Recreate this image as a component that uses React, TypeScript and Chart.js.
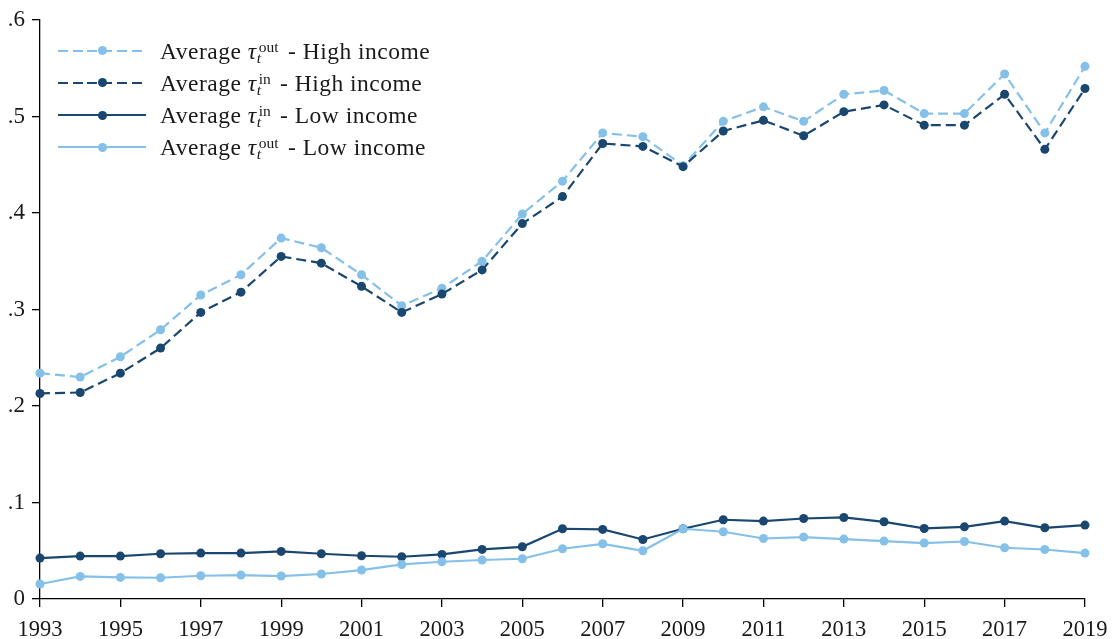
import React, { useEffect, useRef } from "react";
import { Chart, registerables } from "chart.js";

Chart.register(...registerables);

const years = [
  1993, 1994, 1995, 1996, 1997, 1998, 1999, 2000, 2001, 2002, 2003, 2004, 2005,
  2006, 2007, 2008, 2009, 2010, 2011, 2012, 2013, 2014, 2015, 2016, 2017, 2018, 2019,
];

const highOut = [
  0.234, 0.230, 0.251, 0.279, 0.315, 0.336, 0.374, 0.364, 0.336, 0.304, 0.322, 0.350, 0.399,
  0.433, 0.483, 0.479, 0.449, 0.495, 0.510, 0.495, 0.523, 0.527, 0.503, 0.503, 0.544, 0.483, 0.552,
];
const highIn = [
  0.213, 0.214, 0.234, 0.260, 0.297, 0.318, 0.355, 0.348, 0.324, 0.297, 0.316, 0.341, 0.389,
  0.417, 0.472, 0.469, 0.448, 0.485, 0.496, 0.480, 0.505, 0.512, 0.491, 0.491, 0.523, 0.466, 0.529,
];
const lowIn = [
  0.0424, 0.0445, 0.0445, 0.0469, 0.0476, 0.0476, 0.0493, 0.0469, 0.0448, 0.0438, 0.0462, 0.0514, 0.0541,
  0.0728, 0.0721, 0.0617, 0.0728, 0.0821, 0.0807, 0.0834, 0.0845, 0.0800, 0.0731, 0.0748, 0.0807, 0.0738, 0.0766,
];
const lowOut = [
  0.0155, 0.0234, 0.0224, 0.0220, 0.0241, 0.0248, 0.0238, 0.0259, 0.0300, 0.0358, 0.0386, 0.0404, 0.0417,
  0.0521, 0.0572, 0.0500, 0.0728, 0.0697, 0.0627, 0.0642, 0.0621, 0.0600, 0.0580, 0.0596, 0.0531, 0.0513, 0.0476,
];

const LIGHT = "#85C0E9";
const DARK = "#1A476F";
const FONT = "'Liberation Serif', 'DejaVu Serif', serif";
const TEXT = "#1a1a1a";

type LegendItem = { sup: string; group: string; color: string; dashed: boolean };
const legendItems: LegendItem[] = [
  { sup: "out", group: "High income", color: LIGHT, dashed: true },
  { sup: "in", group: "High income", color: DARK, dashed: true },
  { sup: "in", group: "Low income", color: DARK, dashed: false },
  { sup: "out", group: "Low income", color: LIGHT, dashed: false },
];

const toPoints = (vals: number[]) => years.map((y, i) => ({ x: y, y: vals[i] }));

const PR = 4.5;

export default function App() {
  const ref = useRef<HTMLCanvasElement | null>(null);

  useEffect(() => {
    if (!ref.current) return;
    const common = {
      borderWidth: 2.2,
      pointRadius: PR,
      pointHoverRadius: PR,
      pointBorderWidth: 0,
      tension: 0,
      fill: false,
      clip: false as any,
    };
    const chart = new Chart(ref.current, {
      type: "line",
      data: {
        datasets: [
          {
            ...common,
            label: "Average tau out - High income",
            data: toPoints(highOut),
            borderColor: LIGHT,
            backgroundColor: LIGHT,
            pointBackgroundColor: LIGHT,
            borderDash: [10, 5],
            order: 4,
          },
          {
            ...common,
            label: "Average tau in - High income",
            data: toPoints(highIn),
            borderColor: DARK,
            backgroundColor: DARK,
            pointBackgroundColor: DARK,
            borderDash: [10, 5],
            order: 3,
          },
          {
            ...common,
            label: "Average tau in - Low income",
            data: toPoints(lowIn),
            borderColor: DARK,
            backgroundColor: DARK,
            pointBackgroundColor: DARK,
            order: 2,
          },
          {
            ...common,
            label: "Average tau out - Low income",
            data: toPoints(lowOut),
            borderColor: LIGHT,
            backgroundColor: LIGHT,
            pointBackgroundColor: LIGHT,
            order: 1,
          },
        ],
      },
      options: {
        animation: false,
        responsive: false,
        layout: { padding: { top: 20, right: 27, left: 0, bottom: 0 } },
        plugins: { legend: { display: false }, tooltip: { enabled: false } },
        scales: {
          x: {
            type: "linear",
            min: 1993,
            max: 2019,
            afterFit: (s: any) => {
              s.height = 40;
              s.paddingLeft = 0;
              s.paddingRight = 0;
            },
            ticks: {
              stepSize: 2,
              autoSkip: false,
              maxRotation: 0,
              padding: 10,
              color: TEXT,
              font: { family: FONT, size: 22.5 },
              callback: (v: any) => String(v),
            },
            grid: {
              display: true,
              drawOnChartArea: false,
              drawTicks: true,
              tickLength: 8,
              color: "#000",
              lineWidth: 1.3,
            },
            border: { display: true, color: "#000", width: 1.3 },
          },
          y: {
            min: 0,
            max: 0.6,
            afterFit: (s: any) => {
              s.width = 40;
              s.paddingTop = 0;
              s.paddingBottom = 0;
            },
            ticks: {
              stepSize: 0.1,
              padding: 7,
              color: TEXT,
              font: { family: FONT, size: 23 },
              callback: (v: any) => {
                const n = Number(v);
                if (Math.abs(n) < 1e-9) return "0";
                return n.toFixed(1).replace(/^0/, "");
              },
            },
            grid: {
              display: true,
              drawOnChartArea: false,
              drawTicks: true,
              tickLength: 8,
              color: "#000",
              lineWidth: 1.3,
            },
            border: { display: true, color: "#000", width: 1.3 },
          },
        },
      },
    });
    return () => chart.destroy();
  }, []);

  const rowCenters = [50.7, 82.6, 115, 147.3];

  return (
    <div
      style={{
        position: "absolute",
        left: 0,
        top: 0,
        width: 1112,
        height: 639,
        background: "#fff",
        fontFamily: FONT,
        color: TEXT,
      }}
    >
      <canvas ref={ref} width={1112} height={639} style={{ width: 1112, height: 639, display: "block" }} />
      {legendItems.map((it, i) => (
        <div
          key={i}
          style={{
            position: "absolute",
            left: 58,
            top: rowCenters[i] - 16,
            height: 32,
            display: "flex",
            alignItems: "center",
            whiteSpace: "nowrap",
          }}
        >
          <div style={{ position: "relative", width: 88, height: 12, marginRight: 14 }}>
            <div
              style={{
                position: "absolute",
                left: 0,
                top: 5,
                width: 88,
                height: 2.2,
                background: it.dashed
                  ? `repeating-linear-gradient(to right, ${it.color} 0px, ${it.color} 10px, transparent 10px, transparent 14.7px)`
                  : it.color,
              }}
            />
            <div
              style={{
                position: "absolute",
                left: 44 - PR,
                top: 6 - PR,
                width: PR * 2,
                height: PR * 2,
                borderRadius: "50%",
                background: it.color,
              }}
            />
          </div>
          <span style={{ fontSize: 23.5, lineHeight: "32px", letterSpacing: 0.5 }}>
            Average{" "}
            <span style={{ fontStyle: "italic", fontWeight: 500 }}>τ</span>
            <span
              style={{
                display: "inline-block",
                position: "relative",
                width: it.sup === "out" ? 25 : 17,
                height: 20,
                verticalAlign: "baseline",
                letterSpacing: 0,
              }}
            >
              <span style={{ position: "absolute", left: 2, top: -8, fontSize: 15.5 }}>{it.sup}</span>
              <span style={{ position: "absolute", left: 0, top: 3, fontSize: 15.5, fontStyle: "italic" }}>t</span>
            </span>{" "}
            - {it.group}
          </span>
        </div>
      ))}
    </div>
  );
}
